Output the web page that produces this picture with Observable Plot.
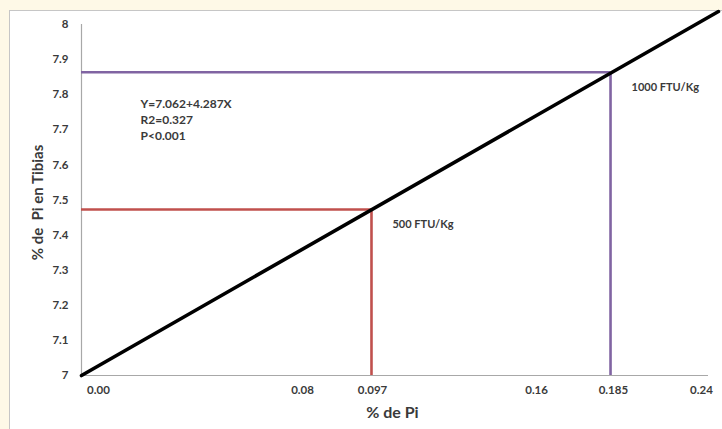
<!DOCTYPE html>
<html>
<head>
<meta charset="utf-8">
<script src="https://cdn.jsdelivr.net/npm/d3@7"></script>
<script src="https://cdn.jsdelivr.net/npm/@observablehq/plot@0.6"></script>
<style>
  html, body { margin: 0; padding: 0; }
  body { width: 722px; height: 429px; background: #fef9e7; position: relative; overflow: hidden; font-family: Lato, "Open Sans", sans-serif; }
  #panel { position: absolute; left: 9px; top: 10px; width: 740px; height: 440px; background: #fff; border: 1px solid #c6c6c6; }
  #chart { position: absolute; left: 0; top: 0; }
</style>
</head>
<body>
<div id="panel"></div>
<div id="chart"></div>
<script>
// Regression line (in axis units)
const lineX = [0, 0.2438];
const lineY = [7, 8.037];

// Reference drop lines (position where they appear on the axis)
const refX = [0.111, 0.2025];
const refY = [7.473, 7.864];
const refLabels = ["500 FTU/Kg", "1000 FTU/Kg"];

// Y axis ticks
const yTicks = [7, 7.1, 7.2, 7.3, 7.4, 7.5, 7.6, 7.7, 7.8, 7.9, 8];

// X axis tick labels (text) and where they sit along the axis
const xTickLabels = ["0.00", "0.08", "0.097", "0.16", "0.185", "0.24"];
const xTickAt = [0.0065, 0.0846, 0.1114, 0.1742, 0.2036, 0.2373];

// Statistics annotation
const statsText = ["Y=7.062+4.287X", "R2=0.327", "P<0.001"];

const refColors = ["#c0504d", "#8064a2"];
const textColor = "#3a3a3a";
const font = "Lato, 'Open Sans', sans-serif";

const linePts = lineX.map((x, i) => ({x, y: lineY[i]}));
const refs = refX.map((x, i) => ({x, y: refY[i], label: refLabels[i], color: refColors[i]}));
const xTicks = xTickLabels.map((t, i) => ({t, x: xTickAt[i]}));

const chart = Plot.plot({
  width: 722,
  height: 429,
  marginLeft: 81,
  marginRight: 14,
  marginTop: 24,
  marginBottom: 54,
  style: {background: "transparent", fontFamily: font, overflow: "visible"},
  x: {domain: [0, 0.24], axis: null},
  y: {domain: [7, 8], axis: null},
  marks: [
    // axis lines
    Plot.ruleY([7], {x1: 0, x2: 0.24, stroke: "#a8a8a8", strokeWidth: 1.2}),
    Plot.ruleX([0], {y1: 7, y2: 8, stroke: "#a8a8a8", strokeWidth: 1.2}),
    // reference lines
    Plot.ruleY(refs, {y: "y", x1: 0, x2: "x", stroke: "color", strokeWidth: 2.6}),
    Plot.ruleX(refs, {x: "x", y1: 7, y2: "y", stroke: "color", strokeWidth: 2.6}),
    // regression line
    Plot.line(linePts, {x: "x", y: "y", stroke: "#000", strokeWidth: 3.6, strokeLinecap: "round"}),
    // y tick labels
    Plot.text(yTicks, {x: 0, y: d => d, text: d => String(d), textAnchor: "end", dx: -13,
      fontSize: 11.5, fontWeight: "bold", fill: textColor}),
    // x tick labels
    Plot.text(xTicks, {x: "x", y: 7, text: "t", dy: 15, fontSize: 11.5, fontWeight: "bold", fill: textColor}),
    // axis titles
    Plot.text(["% de Pi"], {x: 0.119, y: 7, dy: 37, text: d => d, fontSize: 16, fontWeight: "bold", fill: textColor}),
    Plot.text(["% de  Pi en Tibias"], {x: 0, y: 7.493, dx: -43, rotate: -90, text: d => d,
      fontSize: 15, fontWeight: "bold", fill: textColor}),
    // stats annotation
    Plot.text([statsText.join("\n")], {x: 0.0226, y: 7.732, text: d => d, textAnchor: "start", lineHeight: 1.35,
      fontSize: 12, fontWeight: "bold", fill: textColor}),
    // dose labels
    Plot.text(refs, {x: "x", y: "y", text: "label", textAnchor: "start", dx: 21, dy: 15,
      fontSize: 11, fontWeight: "bold", fill: textColor})
  ]
});
document.getElementById("chart").appendChild(chart);
</script>
</body>
</html>
